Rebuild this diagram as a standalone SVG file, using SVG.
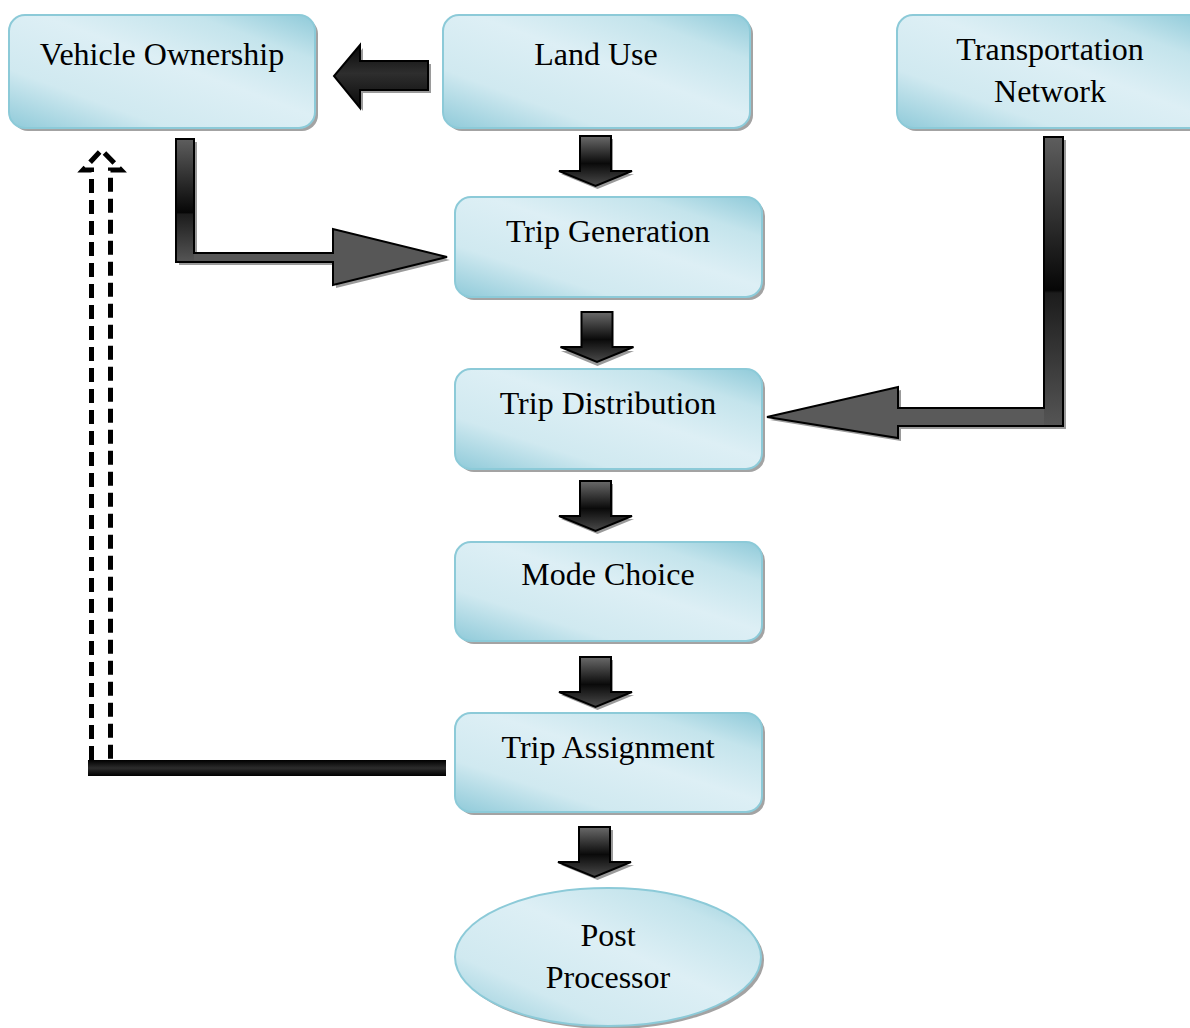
<svg xmlns="http://www.w3.org/2000/svg" xmlns:xlink="http://www.w3.org/1999/xlink" width="1190" height="1028" viewBox="0 0 1190 1028">
<style>
.box{fill:url(#boxGrad);stroke:#8ccad8;stroke-width:2}
.shadow{fill:#a3a3a3}
.lbl{font-family:"Liberation Serif","Times New Roman",serif;font-size:32px;fill:#000;text-anchor:middle}
.arr{stroke:#000;stroke-width:2;stroke-linejoin:miter}
.ashadow{fill:#9a9a9a}
</style>
<defs>
<linearGradient id="boxGrad" x1="0" y1="1" x2="1" y2="0">
<stop offset="0" stop-color="#8fcad9"/>
<stop offset="0.26" stop-color="#d0e9f0"/>
<stop offset="0.55" stop-color="#ddeff5"/>
<stop offset="0.8" stop-color="#c4e4ec"/>
<stop offset="1" stop-color="#8fcad9"/>
</linearGradient>
<linearGradient id="dGrad" x1="0" y1="0" x2="0" y2="1">
<stop offset="0" stop-color="#6a6a6a"/>
<stop offset="0.55" stop-color="#0a0a0a"/>
<stop offset="1" stop-color="#4a4a4a"/>
</linearGradient>
<linearGradient id="leftGrad" x1="0" y1="0" x2="0" y2="1">
<stop offset="0" stop-color="#080808"/>
<stop offset="0.45" stop-color="#2e2e2e"/>
<stop offset="1" stop-color="#0a0a0a"/>
</linearGradient>
<linearGradient id="vGrad1" gradientUnits="userSpaceOnUse" x1="0" y1="139" x2="0" y2="262">
<stop offset="0" stop-color="#5e5e5e"/>
<stop offset="0.6" stop-color="#060606"/>
<stop offset="0.61" stop-color="#1c1c1c"/>
<stop offset="1" stop-color="#555"/>
</linearGradient>
<linearGradient id="vGrad2" gradientUnits="userSpaceOnUse" x1="0" y1="137" x2="0" y2="426">
<stop offset="0" stop-color="#5e5e5e"/>
<stop offset="0.53" stop-color="#060606"/>
<stop offset="0.54" stop-color="#1c1c1c"/>
<stop offset="1" stop-color="#555"/>
</linearGradient>
<linearGradient id="barGrad" x1="0" y1="0" x2="0" y2="1">
<stop offset="0" stop-color="#000"/>
<stop offset="0.5" stop-color="#2c2c2c"/>
<stop offset="1" stop-color="#000"/>
</linearGradient>
<path id="dArrow" d="M-15.5,0 H15.5 V35 H36.5 L0,50 L-36.5,35 H-15.5 Z"/>
</defs>

<rect width="1190" height="1028" fill="#fff"/>

<g id="connectors">
  <g id="c-landuse-vehicle">
    <polygon class="ashadow" points="431,64 363,64 363,48 337,79 363,111 363,93 431,93"/>
    <polygon class="arr" fill="url(#leftGrad)" points="428,61 360,61 360,45 334,76 360,108 360,90 428,90"/>
  </g>
  <g id="c-vehicle-tripgen">
    <polygon class="ashadow" points="179,142 197,142 197,256 336,256 336,232 450,260 336,288 336,265 179,265"/>
    <polygon fill="#575757" points="176,139 194,139 194,253 333,253 333,229 447,257 333,285 333,262 176,262"/>
    <rect x="176" y="139" width="18" height="123" fill="url(#vGrad1)"/>
    <polygon class="arr" fill="none" points="176,139 194,139 194,253 333,253 333,229 447,257 333,285 333,262 176,262"/>
  </g>
  <g id="c-transport-tripdist">
    <polygon class="ashadow" points="1046,140 1066,140 1066,429 901,429 901,441 770,420 901,390 901,411 1046,411"/>
    <polygon fill="#5a5a5a" points="1044,137 1063,137 1063,426 898,426 898,438 767,417 898,387 898,408 1044,408"/>
    <rect x="1044" y="137" width="19" height="289" fill="url(#vGrad2)"/>
    <polygon class="arr" fill="none" points="1044,137 1063,137 1063,426 898,426 898,438 767,417 898,387 898,408 1044,408"/>
  </g>
  <g id="c-chain">
    <use href="#dArrow" x="597.5" y="139" class="ashadow"/>
    <use href="#dArrow" x="595.5" y="136" class="arr" fill="url(#dGrad)"/>
    <use href="#dArrow" x="597.5" y="316" class="ashadow"/>
    <use href="#dArrow" x="597" y="312" class="arr" fill="url(#dGrad)"/>
    <use href="#dArrow" x="597.5" y="484" class="ashadow"/>
    <use href="#dArrow" x="595.5" y="481" class="arr" fill="url(#dGrad)"/>
    <use href="#dArrow" x="597.5" y="660" class="ashadow"/>
    <use href="#dArrow" x="595.5" y="657" class="arr" fill="url(#dGrad)"/>
    <use href="#dArrow" x="597.5" y="830" class="ashadow"/>
    <use href="#dArrow" x="594.5" y="827" class="arr" fill="url(#dGrad)"/>
  </g>
  <g id="c-feedback">
    <rect x="88" y="760" width="358" height="16" fill="url(#barGrad)"/>
    <path d="M91.5,760 V170 H83 L101.5,150 L121,170 H110.5 V760" fill="none" stroke="#000" stroke-width="5" stroke-dasharray="14 7" stroke-linejoin="miter"/>
  </g>
</g>

<g id="node-vehicle-ownership">
  <rect class="shadow" x="12" y="18" width="306" height="113" rx="16"/>
  <rect class="box" x="9" y="15" width="306" height="113" rx="16"/>
  <text class="lbl" x="162" y="65">Vehicle Ownership</text>
</g>
<g id="node-land-use">
  <rect class="shadow" x="446" y="18" width="307" height="113" rx="16"/>
  <rect class="box" x="443" y="15" width="307" height="113" rx="16"/>
  <text class="lbl" x="596" y="65">Land Use</text>
</g>
<g id="node-transportation-network">
  <rect class="shadow" x="900" y="18" width="307" height="113" rx="16"/>
  <rect class="box" x="897" y="15" width="307" height="113" rx="16"/>
  <text class="lbl" x="1050" y="60">Transportation</text>
  <text class="lbl" x="1050" y="102">Network</text>
</g>
<g id="node-trip-generation">
  <rect class="shadow" x="458" y="200" width="307" height="100" rx="16"/>
  <rect class="box" x="455" y="197" width="307" height="100" rx="16"/>
  <text class="lbl" x="608" y="242">Trip Generation</text>
</g>
<g id="node-trip-distribution">
  <rect class="shadow" x="458" y="372" width="307" height="100" rx="16"/>
  <rect class="box" x="455" y="369" width="307" height="100" rx="16"/>
  <text class="lbl" x="608" y="414">Trip Distribution</text>
</g>
<g id="node-mode-choice">
  <rect class="shadow" x="458" y="545" width="307" height="99" rx="16"/>
  <rect class="box" x="455" y="542" width="307" height="99" rx="16"/>
  <text class="lbl" x="608" y="585">Mode Choice</text>
</g>
<g id="node-trip-assignment">
  <rect class="shadow" x="458" y="716" width="307" height="99" rx="16"/>
  <rect class="box" x="455" y="713" width="307" height="99" rx="16"/>
  <text class="lbl" x="608" y="758">Trip Assignment</text>
</g>
<g id="node-post-processor">
  <ellipse class="shadow" cx="611" cy="960" rx="153" ry="69"/>
  <ellipse class="box" cx="608" cy="957" rx="153" ry="69"/>
  <text class="lbl" x="608" y="946">Post</text>
  <text class="lbl" x="608" y="988">Processor</text>
</g>
</svg>
